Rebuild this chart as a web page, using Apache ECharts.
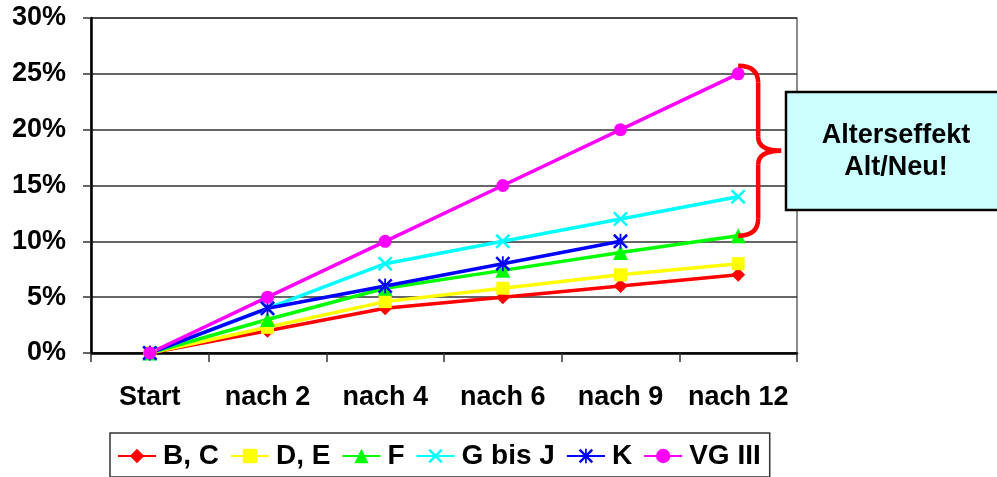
<!DOCTYPE html>
<html>
<head>
<meta charset="utf-8">
<script src="https://cdn.jsdelivr.net/npm/echarts@6/dist/echarts.min.js"></script>
<style>
  html, body { margin: 0; padding: 0; background: #fff; }
  #chart { width: 997px; height: 477px; }
</style>
</head>
<body>
<div id="chart"></div>
<script>
// Categories (x axis)
const categories = ['Start', 'nach 2', 'nach 4', 'nach 6', 'nach 9', 'nach 12']

// Series values in percent
const seriesBC = [0, 2, 4, 5, 6, 7]
const seriesDE = [0, 2.3, 4.6, 5.8, 7, 8]
const seriesF = [0, 3, 5.8, 7.4, 9, 10.5]
const seriesGJ = [0, 4, 8, 10, 12, 14]
const seriesK = [0, 4, 6, 8, 10, null]
const seriesVG = [0, 5, 10, 15, 20, 25]

const seriesNames = ['B, C', 'D, E', 'F', 'G bis J', 'K', 'VG III']

const FONT = 'Liberation Sans, Arial, sans-serif'

// Colors
const COLOR_BC = '#ff0000'
const COLOR_DE = '#ffff00'
const COLOR_F = '#00ff00'
const COLOR_GJ = '#00ffff'
const COLOR_K = '#0000ff'
const COLOR_VG = '#ff00ff'

// Marker shapes (filled thin bars so they render as strokes)
const SYMBOL_X = 'path://M0,1.2L1.2,0L10,8.8L8.8,10Z M8.8,0L10,1.2L1.2,10L0,8.8Z'
const SYMBOL_STAR = 'path://M0,1.2L1.2,0L10,8.8L8.8,10Z M8.8,0L10,1.2L1.2,10L0,8.8Z M4.4,0L5.6,0L5.6,10L4.4,10Z'

const chart = echarts.init(document.getElementById('chart'))

const mkSeries = (name, data, color, symbol, size) => ({
  name,
  type: 'line',
  data,
  symbol,
  symbolSize: size,
  showAllSymbol: true,
  connectNulls: false,
  lineStyle: { color, width: 3.5 },
  itemStyle: { color },
  emphasis: { disabled: true },
})

chart.setOption({
  animation: false,
  backgroundColor: '#fff',
  grid: { left: 91, right: 200, top: 18, bottom: 124, show: true, borderColor: '#666', borderWidth: 1.5 },
  xAxis: {
    type: 'category',
    data: categories,
    boundaryGap: true,
    axisLine: { lineStyle: { color: '#000', width: 2.5 } },
    axisTick: { show: true, length: 9, interval: 0, lineStyle: { color: '#333', width: 1.5 } },
    axisLabel: { interval: 0, color: '#000', fontFamily: FONT, fontWeight: 'bold', fontSize: 27, margin: 31 },
  },
  yAxis: {
    type: 'value',
    min: 0,
    max: 30,
    interval: 5,
    axisLine: { show: true, lineStyle: { color: '#000', width: 2.5 } },
    axisTick: { show: true, length: 8, lineStyle: { color: '#333', width: 1.5 } },
    axisLabel: { color: '#000', fontFamily: FONT, fontWeight: 'bold', fontSize: 27, margin: 25, formatter: '{value}%' },
    splitLine: { lineStyle: { color: '#333', width: 1.5 } },
  },
  legend: {
    left: 110,
    top: 433,
    padding: [9, 9, 7, 7],
    itemWidth: 38,
    itemHeight: 18,
    itemGap: 11,
    borderColor: '#333',
    borderWidth: 1.5,
    backgroundColor: '#fff',
    textStyle: { color: '#000', fontFamily: FONT, fontWeight: 'bold', fontSize: 28, padding: [0, 0, 0, 2] },
    data: seriesNames,
  },
  series: [
    mkSeries(seriesNames[0], seriesBC, COLOR_BC, 'diamond', 14),
    mkSeries(seriesNames[1], seriesDE, COLOR_DE, 'rect', 13),
    mkSeries(seriesNames[2], seriesF, COLOR_F, 'triangle', 15),
    mkSeries(seriesNames[3], seriesGJ, COLOR_GJ, SYMBOL_X, 15),
    mkSeries(seriesNames[4], seriesK, COLOR_K, SYMBOL_STAR, 15),
    mkSeries(seriesNames[5], seriesVG, COLOR_VG, 'circle', 13),
  ],
})

// Curly brace from the VG III end point down to the F end point, plus the note box
const last = categories.length - 1
const pTop = chart.convertToPixel({ xAxisIndex: 0, yAxisIndex: 0 }, [last, seriesVG[last]])
const pBot = chart.convertToPixel({ xAxisIndex: 0, yAxisIndex: 0 }, [last, seriesF[last]])
const a = pTop[0]
const b = a + 20
const yT = pTop[1] - 8
const yB = pBot[1]
const yM = (yT + yB) / 2
const braceStyle = { fill: null, stroke: '#ff0000', lineWidth: 4.5 }
const curve = (x1, y1, cx, cy, x2, y2) => ({
  type: 'bezierCurve',
  shape: { x1, y1, cpx1: cx, cpy1: cy, x2, y2 },
  style: braceStyle,
  z: 100,
})
const seg = (x1, y1, x2, y2) => ({
  type: 'line',
  shape: { x1, y1, x2, y2 },
  style: braceStyle,
  z: 100,
})

chart.setOption({
  graphic: [
    curve(a, yT, b, yT, b, yT + 17),
    seg(b, yT + 17, b, yM - 14),
    curve(b, yM - 14, b, yM, b + 23, yM),
    curve(b + 23, yM, b, yM, b, yM + 14),
    seg(b, yM + 14, b, yB - 17),
    curve(b, yB - 17, b, yB, a, yB),
    {
      type: 'rect',
      shape: { x: 786, y: 92, width: 220, height: 118 },
      style: { fill: '#ccffff', stroke: '#000', lineWidth: 2.5 },
      z: 100,
    },
    {
      type: 'text',
      x: 896,
      y: 152,
      style: {
        text: 'Alterseffekt\nAlt/Neu!',
        fill: '#000',
        font: 'bold 27px ' + FONT,
        lineHeight: 32,
        align: 'center',
        verticalAlign: 'middle',
      },
      z: 101,
    },
  ],
})
</script>
</body>
</html>
